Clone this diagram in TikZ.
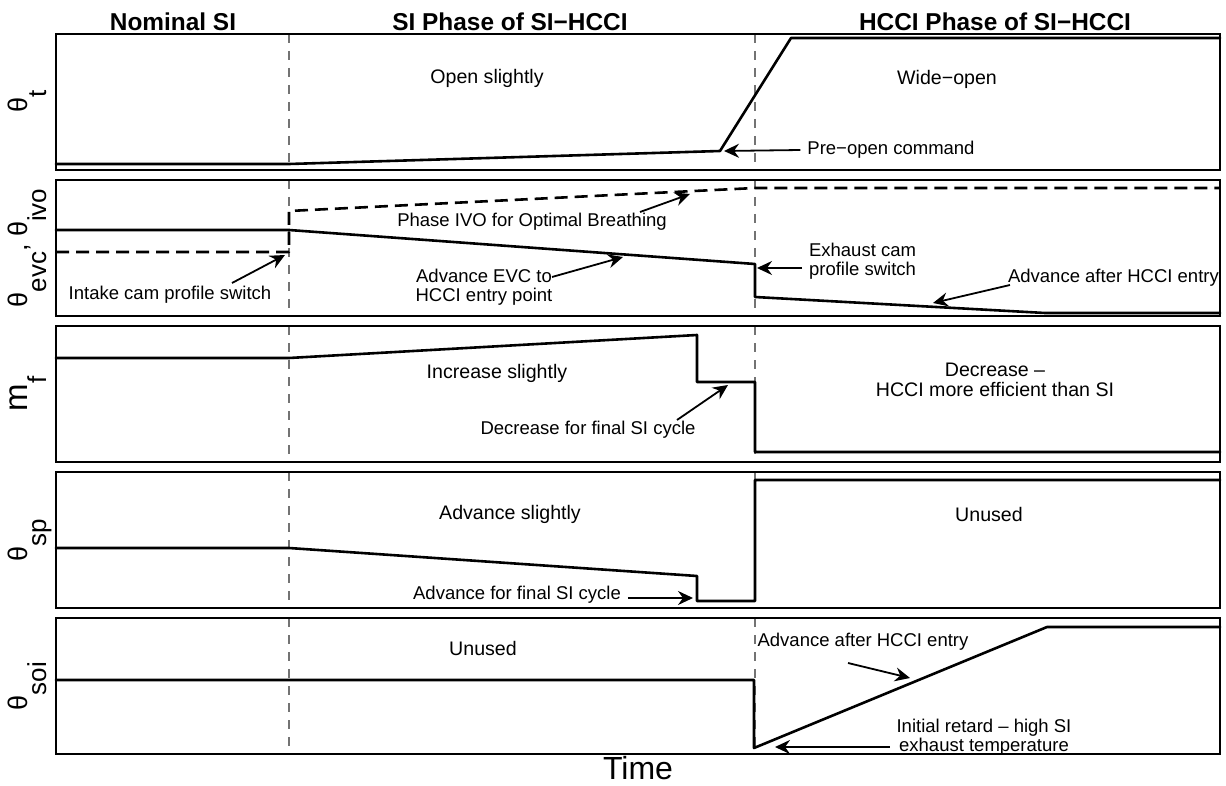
\documentclass[tikz,border=0pt]{standalone}
\usepackage{fontspec}
\setmainfont{Liberation Sans}
\usetikzlibrary{arrows.meta,calc}
\newcommand{\subtxt}[1]{\raisebox{-9.5pt}{\fontsize{13}{15}\selectfont #1}}
\begin{document}
\begin{tikzpicture}[x=0.5pt,y=-0.5pt,
    panel/.style={line width=0.8pt},
    phaseline/.style={black!55,line width=0.8pt,dash pattern=on 4.5pt off 4pt},
    sig/.style={line width=1.3pt,line join=round,line cap=round},
    sigdash/.style={sig,line cap=butt,dash pattern=on 6.5pt off 3.5pt},
    arr/.style={line width=0.9pt,-{Stealth[length=7.5pt,width=7pt,inset=2.5pt]}},
    head/.style={font=\fontsize{12.2}{14}\selectfont\bfseries,anchor=base},
    lbl/.style={font=\fontsize{9.8}{10}\selectfont,align=center},
    note/.style={font=\fontsize{9.25}{9.5}\selectfont,align=center},
    axlab/.style={rotate=90,anchor=base,font=\fontsize{13.5}{15}\selectfont}]
    \useasboundingbox (0,0) rectangle (1226,786);
    \foreach \top in {34,180,326,472,618} {
        \draw[phaseline] (289,\top) -- (289,\top+136);
        \draw[phaseline] (755,\top) -- (755,\top+136);
        \draw[panel] (56,\top) rectangle (1220,\top+136);
    }
    \draw[sig] (56,164) -- (289,164) -- (720,151) -- (791,38) -- (1220,38);
    \draw[sig] (56,230) -- (289,230) -- (755,264) -- (755,297) -- (1045,313) -- (1220,313);
    \draw[sigdash] (56,252) -- (289,252) -- (289,211) -- (755,188) -- (1220,188);
    \draw[sig] (56,358) -- (289,358) -- (697,335) -- (697,382) -- (755,382) -- (755,452) -- (1220,452);
    \draw[sig] (56,548) -- (289,548) -- (697,576) -- (697,601) -- (755,601) -- (755,480) -- (1220,480);
    \draw[sig] (56,680) -- (754,680) -- (754,748) -- (1047,627) -- (1220,627);

    \node[head] (hnom) at (173,31) {Nominal SI};
    \node[head] (hsi) at (510,31) {SI Phase of SI−HCCI};
    \node[head] (hhcci) at (995,31) {HCCI Phase of SI−HCCI};

    \node[axlab] (yt) at (27,101) {θ\subtxt{t}};
    \node[axlab] (ycam) at (27,248) {θ\subtxt{evc}, θ\subtxt{ivo}};
    \node[axlab] (ymf) at (27,394) {{\fontsize{16.5}{18}\selectfont m}\subtxt{f}};
    \node[axlab] (ysp) at (27,540) {θ\subtxt{sp}};
    \node[axlab] (ysoi) at (27,686) {θ\subtxt{soi}};

    \node[lbl] (openlbl) at (487,78) {Open slightly};
    \node[lbl] (widelbl) at (947,79) {Wide−open};
    \node[note] (prelbl) at (891,150) {Pre−open command};
    \coordinate (pretip) at (724,151);
    \draw[arr] (prelbl.west) -- (pretip);

    \node[note] (ivolbl) at (532,222) {Phase IVO for Optimal Breathing};
    \coordinate (ivotip) at (690,194);
    \draw[arr] ($(ivolbl.center)+(108,-10)$) -- (ivotip);
    \node[note] (intakelbl) at (170,295) {Intake cam profile switch};
    \coordinate (intaketip) at (285,255);
    \draw[arr] ($(intakelbl.center)+(62,-12)$) -- (intaketip);
    \node[note] (evclbl) at (484,287) {Advance EVC to\\HCCI entry point};
    \coordinate (evctip) at (623,257);
    \draw[arr] ($(evclbl.center)+(68,-10)$) -- (evctip);
    \node[note,align=left,anchor=west] (exhlbl) at (802,261) {Exhaust cam\\profile switch};
    \coordinate (exhtip) at (757,268);
    \draw[arr] ($(exhlbl.west)+(0,7)$) -- (exhtip);
    \node[note,anchor=west] (evcadvlbl) at (1001,278) {Advance after HCCI entry};
    \coordinate (evcadvtip) at (933,303);
    \draw[arr] ($(evcadvlbl.west)+(9,7)$) -- (evcadvtip);

    \node[lbl] (inclbl) at (497,373) {Increase slightly};
    \node[lbl] (hccifuel) at (995,380) {Decrease –\\HCCI more efficient than SI};
    \node[note] (fuelfin) at (588,430) {Decrease for final SI cycle};
    \coordinate (fueltip) at (728,385);
    \draw[arr] ($(fuelfin.center)+(89,-10)$) -- (fueltip);

    \node[lbl] (sparklbl) at (510,514) {Advance slightly};
    \node[lbl] (sparkoff) at (989,514) {Unused};
    \node[note] (sparkfin) at (517,595) {Advance for final SI cycle};
    \coordinate (sparktip) at (693,598);
    \draw[arr] ($(sparkfin.east)+(0,3)$) -- (sparktip);

    \node[lbl] (soioff) at (483,648) {Unused};
    \node[note] (soiadv) at (863,642) {Advance after HCCI entry};
    \coordinate (soiadvtip) at (910,678);
    \draw[arr] ($(soiadv.center)+(-15,21)$) -- (soiadvtip);
    \node[note] (retlbl) at (984,737) {Initial retard – high SI\\exhaust temperature};
    \coordinate (rettip) at (775,747);
    \draw[arr] ($(retlbl.west)+(0,10)$) -- (rettip);

    \node[font=\fontsize{16}{18}\selectfont,inner sep=1pt] (timelbl) at (638,768) {Time};
\end{tikzpicture}
\end{document}
